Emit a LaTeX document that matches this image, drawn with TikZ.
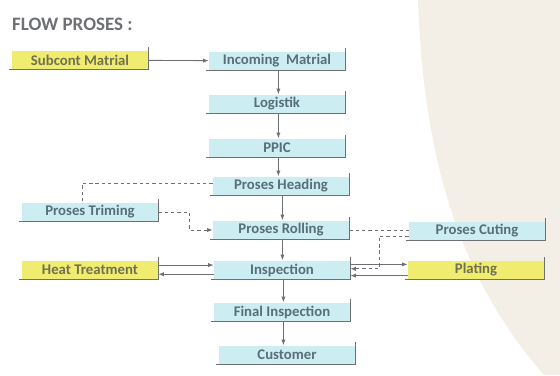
\documentclass[tikz,border=0pt]{standalone}
\usepackage{fontspec}
\setsansfont{Carlito}
\usetikzlibrary{arrows.meta,calc}
\definecolor{boxcyan}{RGB}{204,238,243}
\definecolor{boxyellow}{RGB}{240,236,112}
\definecolor{boxtext}{RGB}{88,110,120}
\definecolor{yelltext}{RGB}{112,112,84}
\definecolor{linegray}{RGB}{110,112,118}
\definecolor{paper}{RGB}{243,239,231}
\tikzset{every picture/.style={/utils/exec={\sffamily}}}
\tikzset{box/.style={fill=boxcyan, text=boxtext, font=\bfseries\fontsize{10.5}{12}\selectfont,
    minimum width=3.4cm, minimum height=0.475cm, inner sep=0pt,
    append after command={([yshift=2pt]\tikzlastnode.north east) edge[linegray, line width=0.6pt] (\tikzlastnode.south east)
      (\tikzlastnode.south east) edge[linegray, line width=0.6pt] ([xshift=-2pt]\tikzlastnode.south west)}}}
\tikzset{ybox/.style={box, fill=boxyellow, text=yelltext}}
\tikzset{flow/.style={-{Latex[length=4pt,width=3pt]}, linegray, line width=0.6pt}}
\tikzset{side/.style={linegray, line width=0.6pt, dashed, dash pattern=on 2.5pt off 2pt}}

\begin{document}
\begin{tikzpicture}
    \useasboundingbox (0,0) rectangle (14,-9.375);
    \fill [paper] (10.45,0) .. controls (10.6,-4.5) and (11.75,-7.25) .. (13.6,-9.375) -- (14,-9.375) -- (14,0) -- cycle;
    \node [anchor=west, text=linegray, font=\bfseries\fontsize{13.5}{15}\selectfont] (title) at (0.18,-0.6) {FLOW PROSES :};
    % main line
    \node [ybox] (sub) at (2.0,-1.5) {Subcont Matrial};
    \node [box] (inc) at (6.925,-1.525) {Incoming\ \ Matrial};
    \node [box] (log) at (6.925,-2.6) {Logistik};
    \node [box] (ppic) at (6.925,-3.7) {PPIC};
    \node [box] (head) at (7.025,-4.65) {Proses Heading};
    \node [box] (roll) at (7.025,-5.75) {Proses Rolling};
    \node [box] (insp) at (7.05,-6.75) {Inspection};
    \node [box] (final) at (7.05,-7.8) {Final Inspection};
    \node [box] (cust) at (7.175,-8.875) {Customer};
    % side processes
    \node [box] (trim) at (2.25,-5.3) {Proses Triming};
    \node [box] (cut) at (11.925,-5.775) {Proses Cuting};
    \node [ybox] (heat) at (2.25,-6.75) {Heat Treatment};
    \node [ybox] (plat) at (11.9,-6.75) {Plating};
    \draw [flow] (sub) -- (inc);
    \foreach \a/\b in {inc/log, log/ppic, ppic/head, head/roll, roll/insp, insp/final, final/cust} {
        \draw [flow] ([xshift=1pt]\a.south) -- ([xshift=1pt]\a.south |- \b.north);
    }
    \draw [side] ([yshift=2pt]head.west) -| ([xshift=-0.2cm]trim.north);
    \draw [side, -{Latex[length=4pt,width=3pt]}] (trim.east) -- ++(0.775,0) |- (roll.west);
    \draw [side] (roll.east) -- (roll.east -| cut.west);
    \draw [side, -{Latex[length=4pt,width=3pt]}] ([yshift=-3.5pt]cut.west) -| (9.475,-6.72) -- (9.475,-6.72 -| insp.east);
    \draw [flow] ([yshift=3.5pt]heat.east) -- ([yshift=3.5pt]heat.east -| insp.west);
    \draw [flow] ([yshift=-3pt]insp.west) -- ([yshift=-3pt]insp.west -| heat.east);
    \draw [flow] ([yshift=4pt]insp.east) -- ([yshift=4pt]insp.east -| plat.west);
    \draw [flow] ([yshift=-4pt]plat.west) -- ([yshift=-4pt]plat.west -| insp.east);
\end{tikzpicture}
\end{document}
